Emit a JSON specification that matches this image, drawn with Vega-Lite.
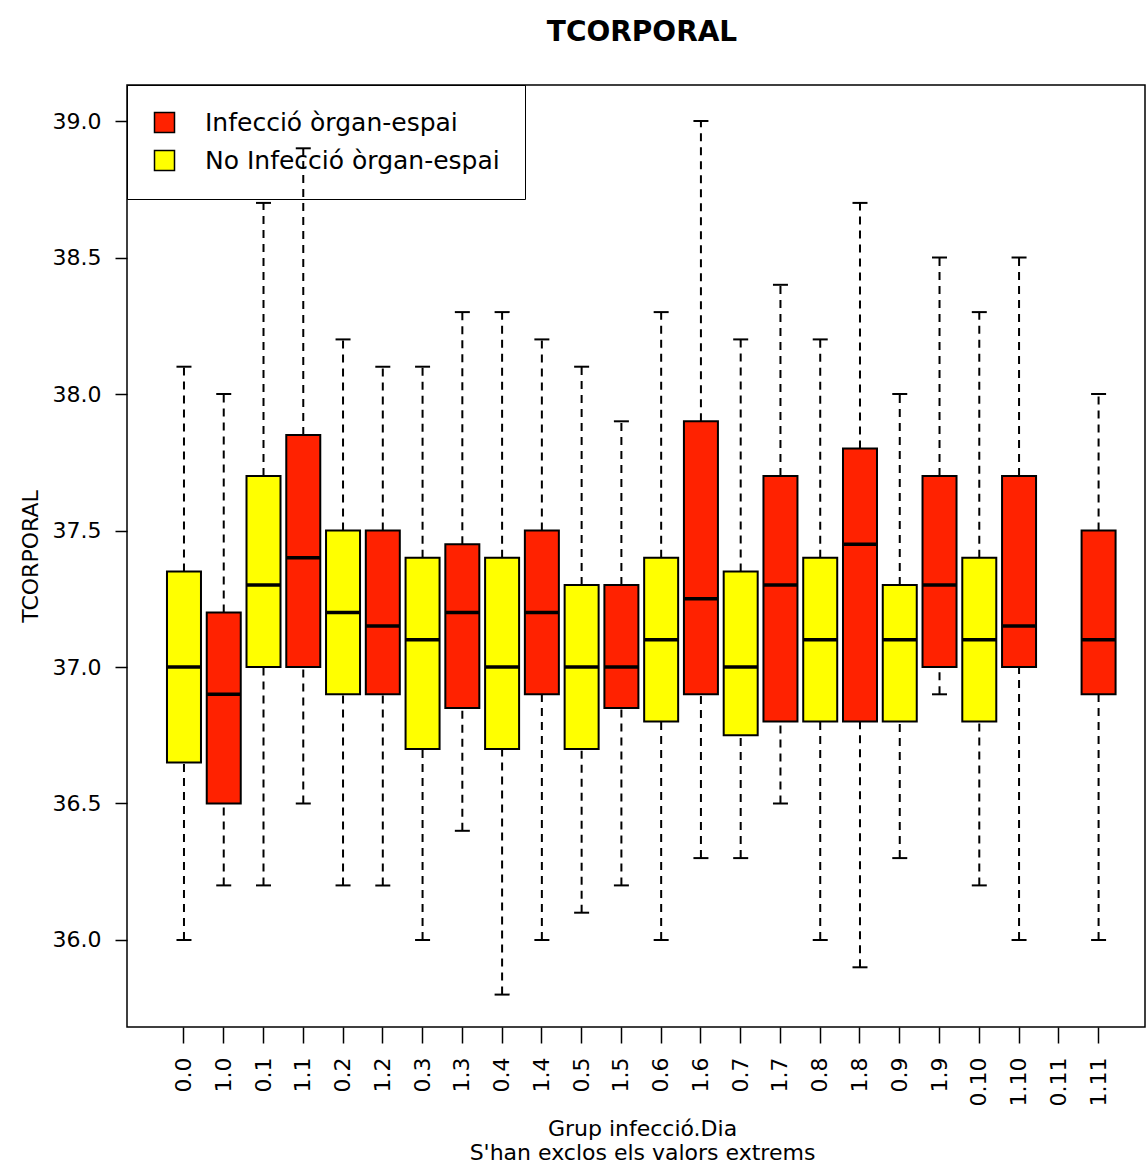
{
  "$schema": "https://vega.github.io/schema/vega-lite/v6.json",
  "width": 1018,
  "height": 942,
  "autosize": {"type": "none"},
  "padding": {"left": 127, "top": 85, "right": 1, "bottom": 145},
  "background": "white",
  "title": {"text": "TCORPORAL", "fontSize": 28, "fontWeight": "bold", "font": "DejaVu Sans", "anchor": "middle", "frame": "group", "offset": 16, "baseline": "alphabetic", "dx": 6, "color": "black"},
  "config": {
    "font": "DejaVu Sans",
    "view": {"stroke": "black", "strokeWidth": 1.5},
    "axis": {"grid": false, "domain": false, "tickColor": "black", "tickWidth": 1.5, "labelColor": "black", "titleColor": "black", "labelFont": "DejaVu Sans", "titleFont": "DejaVu Sans", "titleFontWeight": "normal"}
  },
  "data": {"values": [
    {"grup": "0.0", "infeccio": "No Infecció òrgan-espai", "lo": 36.0, "q1": 36.65, "med": 37.0, "q3": 37.35, "hi": 38.1},
    {"grup": "1.0", "infeccio": "Infecció òrgan-espai", "lo": 36.2, "q1": 36.5, "med": 36.9, "q3": 37.2, "hi": 38.0},
    {"grup": "0.1", "infeccio": "No Infecció òrgan-espai", "lo": 36.2, "q1": 37.0, "med": 37.3, "q3": 37.7, "hi": 38.7},
    {"grup": "1.1", "infeccio": "Infecció òrgan-espai", "lo": 36.5, "q1": 37.0, "med": 37.4, "q3": 37.85, "hi": 38.9},
    {"grup": "0.2", "infeccio": "No Infecció òrgan-espai", "lo": 36.2, "q1": 36.9, "med": 37.2, "q3": 37.5, "hi": 38.2},
    {"grup": "1.2", "infeccio": "Infecció òrgan-espai", "lo": 36.2, "q1": 36.9, "med": 37.15, "q3": 37.5, "hi": 38.1},
    {"grup": "0.3", "infeccio": "No Infecció òrgan-espai", "lo": 36.0, "q1": 36.7, "med": 37.1, "q3": 37.4, "hi": 38.1},
    {"grup": "1.3", "infeccio": "Infecció òrgan-espai", "lo": 36.4, "q1": 36.85, "med": 37.2, "q3": 37.45, "hi": 38.3},
    {"grup": "0.4", "infeccio": "No Infecció òrgan-espai", "lo": 35.8, "q1": 36.7, "med": 37.0, "q3": 37.4, "hi": 38.3},
    {"grup": "1.4", "infeccio": "Infecció òrgan-espai", "lo": 36.0, "q1": 36.9, "med": 37.2, "q3": 37.5, "hi": 38.2},
    {"grup": "0.5", "infeccio": "No Infecció òrgan-espai", "lo": 36.1, "q1": 36.7, "med": 37.0, "q3": 37.3, "hi": 38.1},
    {"grup": "1.5", "infeccio": "Infecció òrgan-espai", "lo": 36.2, "q1": 36.85, "med": 37.0, "q3": 37.3, "hi": 37.9},
    {"grup": "0.6", "infeccio": "No Infecció òrgan-espai", "lo": 36.0, "q1": 36.8, "med": 37.1, "q3": 37.4, "hi": 38.3},
    {"grup": "1.6", "infeccio": "Infecció òrgan-espai", "lo": 36.3, "q1": 36.9, "med": 37.25, "q3": 37.9, "hi": 39.0},
    {"grup": "0.7", "infeccio": "No Infecció òrgan-espai", "lo": 36.3, "q1": 36.75, "med": 37.0, "q3": 37.35, "hi": 38.2},
    {"grup": "1.7", "infeccio": "Infecció òrgan-espai", "lo": 36.5, "q1": 36.8, "med": 37.3, "q3": 37.7, "hi": 38.4},
    {"grup": "0.8", "infeccio": "No Infecció òrgan-espai", "lo": 36.0, "q1": 36.8, "med": 37.1, "q3": 37.4, "hi": 38.2},
    {"grup": "1.8", "infeccio": "Infecció òrgan-espai", "lo": 35.9, "q1": 36.8, "med": 37.45, "q3": 37.8, "hi": 38.7},
    {"grup": "0.9", "infeccio": "No Infecció òrgan-espai", "lo": 36.3, "q1": 36.8, "med": 37.1, "q3": 37.3, "hi": 38.0},
    {"grup": "1.9", "infeccio": "Infecció òrgan-espai", "lo": 36.9, "q1": 37.0, "med": 37.3, "q3": 37.7, "hi": 38.5},
    {"grup": "0.10", "infeccio": "No Infecció òrgan-espai", "lo": 36.2, "q1": 36.8, "med": 37.1, "q3": 37.4, "hi": 38.3},
    {"grup": "1.10", "infeccio": "Infecció òrgan-espai", "lo": 36.0, "q1": 37.0, "med": 37.15, "q3": 37.7, "hi": 38.5},
    {"grup": "1.11", "infeccio": "Infecció òrgan-espai", "lo": 36.0, "q1": 36.9, "med": 37.1, "q3": 37.5, "hi": 38.0}
  ]},
  "encoding": {
    "x": {
      "field": "grup", "type": "nominal", "sort": null,
      "scale": {"type": "band", "domain": ["0.0","1.0","0.1","1.1","0.2","1.2","0.3","1.3","0.4","1.4","0.5","1.5","0.6","1.6","0.7","1.7","0.8","1.8","0.9","1.9","0.10","1.10","0.11","1.11"], "paddingInner": 0, "paddingOuter": 0.8, "align": 0.583},
      "axis": {
        "title": ["Grup infecció.Dia", "S'han exclos els valors extrems"],
        "titleFontSize": 22, "titleLineHeight": 24, "titleY": 91, "titleBaseline": "top", "titleX": 515,
        "labelAngle": 270, "labelAlign": "right", "labelBaseline": "middle", "labelFontSize": 22, "labelPadding": 14,
        "labelOverlap": false, "labelFlush": false, "labelBound": false,
        "tickSize": 16
      }
    }
  },
  "layer": [
    {
      "mark": {"type": "rule", "color": "black", "strokeWidth": 2, "strokeDash": [8, 6]},
      "encoding": {
        "y": {"field": "lo", "type": "quantitative", "scale": {"domain": [35.6813, 39.1319], "nice": false, "zero": false},
          "axis": {"title": "TCORPORAL", "values": [36.0, 36.5, 37.0, 37.5, 38.0, 38.5, 39.0], "format": ".1f",
            "labelFontSize": 22, "labelPadding": 14, "tickSize": 12,
            "titleFontSize": 22, "titleX": -97, "titleY": 471, "titleAngle": 270, "titleAlign": "center", "titleBaseline": "middle"}},
        "y2": {"field": "q1"}
      }
    },
    {
      "mark": {"type": "rule", "color": "black", "strokeWidth": 2, "strokeDash": [8, 6]},
      "encoding": {"y": {"field": "q3", "type": "quantitative"}, "y2": {"field": "hi"}}
    },
    {
      "mark": {"type": "tick", "color": "black", "size": 15, "thickness": 2, "opacity": 1},
      "encoding": {"y": {"field": "lo", "type": "quantitative"}}
    },
    {
      "mark": {"type": "tick", "color": "black", "size": 15, "thickness": 2, "opacity": 1},
      "encoding": {"y": {"field": "hi", "type": "quantitative"}}
    },
    {
      "mark": {"type": "bar", "width": 34, "stroke": "black", "strokeWidth": 2, "opacity": 1},
      "encoding": {
        "y": {"field": "q1", "type": "quantitative"},
        "y2": {"field": "q3"},
        "fill": {"field": "infeccio", "type": "nominal",
          "scale": {"domain": ["Infecció òrgan-espai", "No Infecció òrgan-espai"], "range": ["#FF2200", "#FFFF00"]},
          "legend": {"title": null, "orient": "none", "legendX": 0, "legendY": 0, "direction": "vertical",
            "strokeColor": "black", "padding": 25,
            "symbolType": "square", "symbolSize": 400, "symbolStrokeColor": "black", "symbolStrokeWidth": 1.5, "symbolOpacity": 1,
            "labelFontSize": 25, "labelFont": "DejaVu Sans", "labelColor": "black", "labelOffset": 28, "labelLimit": 500, "rowPadding": 11}}
      }
    },
    {
      "mark": {"type": "tick", "color": "black", "size": 34, "thickness": 3.5, "opacity": 1},
      "encoding": {"y": {"field": "med", "type": "quantitative"}}
    }
  ]
}
